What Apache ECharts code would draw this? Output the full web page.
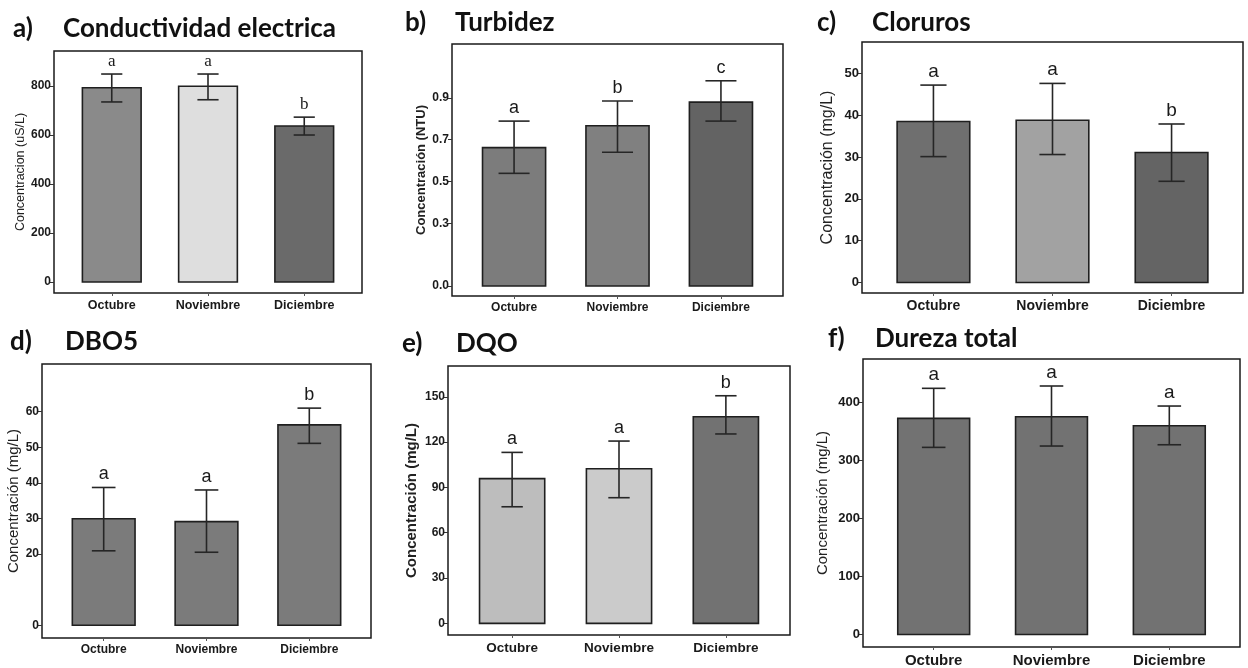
<!DOCTYPE html>
<html>
<head>
<meta charset="utf-8">
<script src="https://cdn.jsdelivr.net/npm/echarts@6/dist/echarts.min.js"></script>
<style>
  html, body { margin: 0; padding: 0; background: #fff; }
  #chart { width: 1248px; height: 668px; }
</style>
</head>
<body>
<div id="chart"></div>
<script>
// meses (categorías)
const months = ["Octubre", "Noviembre", "Diciembre"];

// a) Conductividad electrica
const condMean = [793, 799, 637];
const condLow = [735, 744, 600];
const condHigh = [849, 849, 673];
const condLetters = ["a", "a", "b"];
const condTicks = [0, 200, 400, 600, 800];

// b) Turbidez
const turbMean = [0.662, 0.767, 0.88];
const turbLow = [0.539, 0.64, 0.789];
const turbHigh = [0.789, 0.885, 0.982];
const turbLetters = ["a", "b", "c"];
const turbTicks = [0, 0.3, 0.5, 0.7, 0.9];

// c) Cloruros
const clorMean = [38.5, 38.8, 31.1];
const clorLow = [30.1, 30.6, 24.2];
const clorHigh = [47.2, 47.6, 37.9];
const clorLetters = ["a", "a", "b"];
const clorTicks = [0, 10, 20, 30, 40, 50];

// d) DBO5
const dboMean = [29.9, 29.1, 56.3];
const dboLow = [20.9, 20.5, 51.1];
const dboHigh = [38.7, 38.0, 61.0];
const dboLetters = ["a", "a", "b"];
const dboTicks = [0, 20, 30, 40, 50, 60];

// e) DQO
const dqoMean = [95.8, 102.4, 136.8];
const dqoLow = [77.2, 83.2, 125.4];
const dqoHigh = [113.2, 120.7, 150.7];
const dqoLetters = ["a", "a", "b"];
const dqoTicks = [0, 30, 60, 90, 120, 150];

// f) Dureza total
const durMean = [372.4, 375.2, 359.7];
const durLow = [322.4, 324.7, 326.9];
const durHigh = [424.1, 428.1, 393.6];
const durLetters = ["a", "a", "a"];
const durTicks = [0, 100, 200, 300, 400];

const panels = [
  {
    tag: "a)", title: "Conductividad electrica", yName: "Concentracion (uS/L)",
    mean: condMean, low: condLow, high: condHigh, letters: condLetters, ticks: condTicks,
    grid: [54, 51, 308, 242], yRange: [-45, 943], tagX: 13, titleX: 63, titleY: 29,
    fill: ["#8a8a8a", "#dedede", "#6a6a6a"], nameGap: 26, nameSize: 12.5, nameWeight: "normal",
    tickSize: 12, xSize: 12.5, letterFont: "serif", letterSize: 17, capW: 0.22, fmt: (v) => v,
  },
  {
    tag: "b)", title: "Turbidez", yName: "Concentración (NTU)",
    mean: turbMean, low: turbLow, high: turbHigh, letters: turbLetters, ticks: turbTicks,
    grid: [452, 44, 331, 252], yRange: [-0.048, 1.158], tagX: 405, titleX: 455, titleY: 23,
    fill: ["#7c7c7c", "#808080", "#636363"], nameGap: 24, nameSize: 13, nameWeight: "bold",
    tickSize: 12, xSize: 12, letterFont: "Liberation Sans", letterSize: 18, capW: 0.3,
    fmt: (v) => v.toFixed(1),
  },
  {
    tag: "c)", title: "Cloruros", yName: "Concentración (mg/L)",
    mean: clorMean, low: clorLow, high: clorHigh, letters: clorLetters, ticks: clorTicks,
    grid: [862, 42, 381, 251], yRange: [-2.5, 57.5], tagX: 817, titleX: 872, titleY: 23,
    fill: ["#6f6f6f", "#a2a2a2", "#646464"], nameGap: 26, nameSize: 16, nameWeight: "normal",
    tickSize: 13, xSize: 14, letterFont: "Liberation Sans", letterSize: 19, capW: 0.22, fmt: (v) => v,
  },
  {
    tag: "d)", title: "DBO5", yName: "Concentración (mg/L)",
    mean: dboMean, low: dboLow, high: dboHigh, letters: dboLetters, ticks: dboTicks,
    grid: [42, 364, 329, 274], yRange: [-3.6, 73.4], tagX: 10, titleX: 65, titleY: 342,
    fill: ["#7b7b7b", "#7b7b7b", "#7b7b7b"], nameGap: 21, nameSize: 15, nameWeight: "normal",
    tickSize: 12, xSize: 12, letterFont: "Liberation Sans", letterSize: 18, capW: 0.23, fmt: (v) => v,
  },
  {
    tag: "e)", title: "DQO", yName: "Concentración (mg/L)",
    mean: dqoMean, low: dqoLow, high: dqoHigh, letters: dqoLetters, ticks: dqoTicks,
    grid: [448, 366, 342, 269], yRange: [-7.7, 170.4], tagX: 402, titleX: 456, titleY: 344,
    fill: ["#bdbdbd", "#cbcbcb", "#727272"], nameGap: 29, nameSize: 15, nameWeight: "bold",
    tickSize: 12, xSize: 13.5, letterFont: "Liberation Sans", letterSize: 18, capW: 0.2, fmt: (v) => v,
  },
  {
    tag: "f)", title: "Dureza total", yName: "Concentración (mg/L)",
    mean: durMean, low: durLow, high: durHigh, letters: durLetters, ticks: durTicks,
    grid: [863, 359, 377, 288], yRange: [-21.4, 474.6], tagX: 828, titleX: 875, titleY: 339,
    fill: ["#727272", "#727272", "#727272"], nameGap: 33, nameSize: 15, nameWeight: "normal",
    tickSize: 13, xSize: 15, letterFont: "Liberation Sans", letterSize: 19, capW: 0.2, fmt: (v) => v,
  },
];

const BAR_W = 0.61;
const TITLE_FONT = 'bold 26px Lato, "Open Sans", sans-serif';

const chart = echarts.init(document.getElementById("chart"), null, { renderer: "canvas" });

const grid = [];
const xAxis = [];
const yAxis = [];
const series = [];
const graphic = [];

panels.forEach((p, i) => {
  grid.push({
    left: p.grid[0], top: p.grid[1], width: p.grid[2], height: p.grid[3],
    show: true, borderColor: "#1a1a1a", borderWidth: 1.5, backgroundColor: "#fff",
  });
  xAxis.push({
    type: "value", gridIndex: i, min: -0.6, max: 2.6,
    axisLine: { show: false, onZero: false },
    splitLine: { show: false },
    axisTick: { show: true, length: 3, lineStyle: { color: "#555" }, customValues: [0, 1, 2] },
    axisLabel: {
      customValues: [0, 1, 2],
      formatter: (v) => months[v],
      fontFamily: "Liberation Sans, Arial, sans-serif",
      fontWeight: "bold", fontSize: p.xSize, color: "#1a1a1a", margin: 6,
    },
  });
  yAxis.push({
    type: "value", gridIndex: i, min: p.yRange[0], max: p.yRange[1],
    name: p.yName, nameLocation: "middle", nameGap: p.nameGap,
    nameTextStyle: {
      fontFamily: "Liberation Sans, Arial, sans-serif", fontSize: p.nameSize,
      fontWeight: p.nameWeight, color: "#222",
    },
    axisLine: { show: false, onZero: false },
    splitLine: { show: false },
    axisTick: { show: true, length: 4, lineStyle: { color: "#333" }, customValues: p.ticks },
    axisLabel: {
      customValues: p.ticks,
      formatter: p.fmt,
      fontFamily: "Liberation Sans, Arial, sans-serif",
      fontWeight: "bold", fontSize: p.tickSize, color: "#1a1a1a", margin: 3,
    },
  });

  // barras
  series.push({
    type: "custom", xAxisIndex: i, yAxisIndex: i,
    data: p.mean.map((v, k) => [k, v]),
    renderItem: (params, api) => {
      const x = api.value(0);
      const base = api.coord([x, 0]);
      const top = api.coord([x, api.value(1)]);
      const w = api.size([BAR_W, 0])[0];
      return {
        type: "rect",
        shape: { x: top[0] - w / 2, y: top[1], width: w, height: base[1] - top[1] },
        style: { fill: p.fill[params.dataIndex], stroke: "#1f1f1f", lineWidth: 1.6 },
      };
    },
  });

  // barras de error + letras
  series.push({
    type: "custom", xAxisIndex: i, yAxisIndex: i, clip: false,
    data: p.low.map((v, k) => [k, v, p.high[k]]),
    renderItem: (params, api) => {
      const x = api.value(0);
      const lo = api.coord([x, api.value(1)]);
      const hi = api.coord([x, api.value(2)]);
      const cw = api.size([p.capW, 0])[0] / 2;
      const st = { stroke: "#262626", lineWidth: 1.6 };
      return {
        type: "group",
        children: [
          { type: "line", shape: { x1: lo[0], y1: lo[1], x2: hi[0], y2: hi[1] }, style: st },
          { type: "line", shape: { x1: hi[0] - cw, y1: hi[1], x2: hi[0] + cw, y2: hi[1] }, style: st },
          { type: "line", shape: { x1: lo[0] - cw, y1: lo[1], x2: lo[0] + cw, y2: lo[1] }, style: st },
          {
            type: "text",
            style: {
              x: hi[0], y: hi[1] - 4, text: p.letters[params.dataIndex],
              align: "center", verticalAlign: "bottom",
              font: p.letterSize + "px " + p.letterFont, fill: "#1a1a1a",
            },
          },
        ],
      };
    },
  });

  graphic.push({
    type: "text", x: p.tagX, y: p.titleY,
    style: { text: p.tag, font: TITLE_FONT, fill: "#111", verticalAlign: "middle" },
  });
  graphic.push({
    type: "text", x: p.titleX, y: p.titleY,
    style: { text: p.title, font: TITLE_FONT, fill: "#111", verticalAlign: "middle" },
  });
});

chart.setOption({
  animation: false,
  backgroundColor: "#fff",
  grid, xAxis, yAxis, series, graphic,
});
</script>
</body>
</html>
